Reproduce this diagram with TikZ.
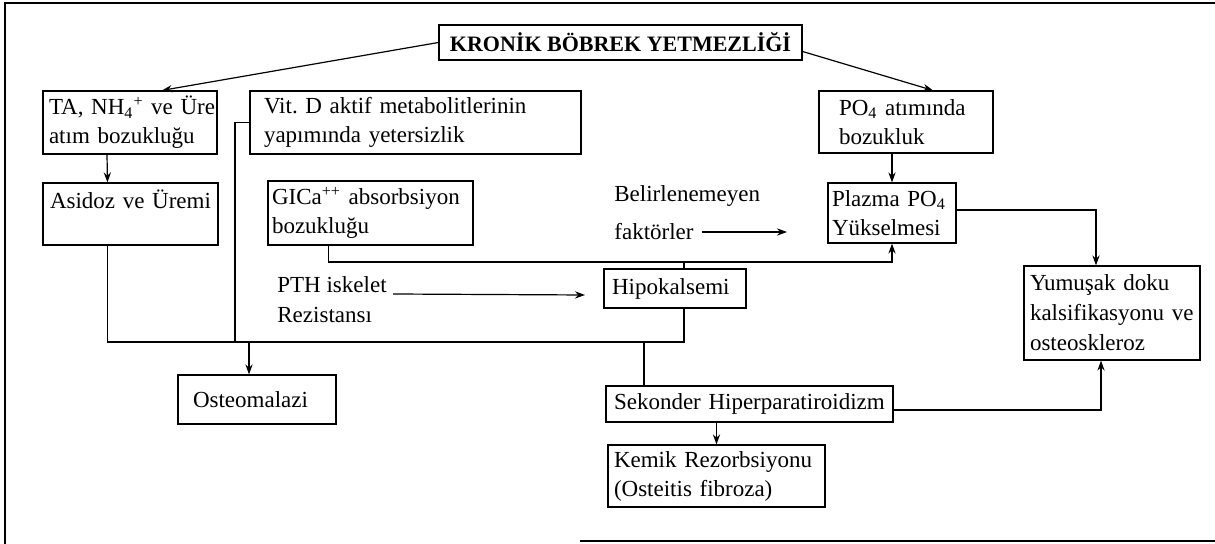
\documentclass[tikz,border=0pt]{standalone}
\usepackage{fontspec}
\setmainfont{Liberation Serif}
\usetikzlibrary{arrows.meta,calc}
\frenchspacing
\begin{document}
\begin{tikzpicture}[x=0.5pt,y=-0.5pt,
  every node/.style={font=\fontsize{11.5}{14.5}\selectfont},
  box/.style={draw, line width=0.6pt, align=left, inner ysep=1pt, inner xsep=4pt},
  lbl/.style={inner sep=0pt, anchor=west},
  conn/.style={line width=0.6pt},
  arr/.style={conn, -{Stealth[length=5pt,width=3.6pt]}},
  frame/.style={line width=0.8pt}]
\useasboundingbox (0,0) rectangle (1215,544);
% outer frame
\coordinate (ftl) at (5,3);
\coordinate (ftr) at (1215,3);
\coordinate (fbl) at (5,544);
\coordinate (fbs) at (580,541);
\coordinate (fbe) at (1215,541);
\draw[frame] (ftr) -- (ftl) -- (fbl);
\draw[frame] (fbs) -- (fbe);

% nodes
\node[box, minimum width=181.5pt, minimum height=17.5pt, align=center,
      font=\fontsize{11}{13}\selectfont\bfseries] (kbn) at (620.5,42.5) {KRONİK BÖBREK YETMEZLİĞİ};
\node[box, minimum width=87pt, minimum height=31.5pt, inner xsep=3pt, text width=81pt] (ta) at (130,122.5)
  {\mbox{TA, NH\textsubscript{4}\textsuperscript{+} ve Üre}\\atım bozukluğu};
\node[box, minimum width=165.5pt, minimum height=31.5pt, inner xsep=7pt, text width=151.5pt] (vit) at (415.5,122.5)
  {Vit. D aktif metabolitlerinin\\yapımında yetersizlik};
\node[box, minimum width=87pt, minimum height=31pt, inner xsep=10pt, text width=67pt] (po4) at (906,122)
  {PO\textsubscript{4} atımında\\bozukluk};
\node[box, minimum width=87.5pt, minimum height=31pt, inner xsep=3.5pt, text width=80.5pt] (asi) at (130.5,214)
  {\mbox{Asidoz ve Üremi}\\\mbox{}};
\node[box, minimum width=102.5pt, minimum height=32pt, inner xsep=2pt, text width=98.5pt] (gica) at (370.5,213)
  {GICa\textsuperscript{++} absorbsiyon\\bozukluğu};
\node[box, minimum width=64pt, minimum height=30pt, inner xsep=2pt, text width=60pt] (pla) at (892,213)
  {Plazma PO\textsubscript{4}\\Yükselmesi};
\node[box, minimum width=71pt, minimum height=19.5pt, text width=63pt] (hip) at (675,288.5)
  {Hipokalsemi};
\node[box, minimum width=88pt, minimum height=47pt, inner xsep=3pt, text width=82pt,
      font=\fontsize{11.5}{15}\selectfont] (yum) at (1112,313)
  {Yumuşak doku\\kalsifikasyonu ve\\osteoskleroz};
\node[box, minimum width=79pt, minimum height=24.5pt, inner xsep=7.5pt, text width=64pt] (ost) at (257,399.5)
  {Osteomalazi};
\node[box, minimum width=143.5pt, minimum height=18pt, text width=135.5pt] (sek) at (749.5,404)
  {Sekonder Hiperparatiroidizm};
\node[box, minimum width=108.5pt, minimum height=31pt, inner xsep=3pt, text width=102.5pt] (kem) at (716.5,476)
  {Kemik Rezorbsiyonu\\(Osteitis fibroza)};

% free texts
\node[lbl] (bel) at (614,196) {Belirlenemeyen};
\node[lbl] (fak) at (614,232) {faktörler};
\node[lbl] (pth) at (277,285) {PTH iskelet};
\node[lbl] (rez) at (277,315) {Rezistansı};
\coordinate (fakend) at (787,232);
\coordinate (pthend) at (585,295);

% helper lanes
\coordinate (gl) at (0,262);
\coordinate (bl) at (0,342);
\coordinate (vl) at (235,0);

% connectors
\draw[arr] (kbn.west) -- ([xshift=16pt]ta.north);
\draw[arr] ([yshift=-4.5pt]kbn.east) -- ([xshift=13.5pt]po4.north);
\draw[arr] ([xshift=-11.5pt]ta.south) -- ([xshift=-11.5pt]asi.north);
\draw[arr] (pla.north |- po4.south) -- (pla.north);
\draw[arr] ([xshift=-21pt]gica.south) |- (pla.south |- gl) -- (pla.south);
\draw[conn] ([xshift=4.5pt]hip.north) -- ([xshift=4.5pt]hip.north |- gl);
\draw[arr] (fak.east) ++(4pt,0) -- (fakend);
\draw[arr] ([xshift=3pt,yshift=-4.5pt]pth.east) -- (pthend);
\draw[arr] ([yshift=1.5pt]pla.east) -| ([xshift=-8pt]yum.north);
\draw[arr] ([yshift=-3pt]sek.east) -| ([xshift=-5.5pt]yum.south);
\draw[arr] (kem.north |- sek.south) -- (kem.north);
\draw[conn] ([xshift=-11.5pt]asi.south) |- ([xshift=4.5pt]hip.south |- bl) -- ([xshift=4.5pt]hip.south);
\draw[conn] (vit.west) -| (vl |- bl);
\draw[arr] ([xshift=-4pt]ost.north |- bl) -- ([xshift=-4pt]ost.north);
\draw[conn] ([xshift=-52.75pt]sek.north |- bl) -- ([xshift=-52.75pt]sek.north);
\end{tikzpicture}
\end{document}
